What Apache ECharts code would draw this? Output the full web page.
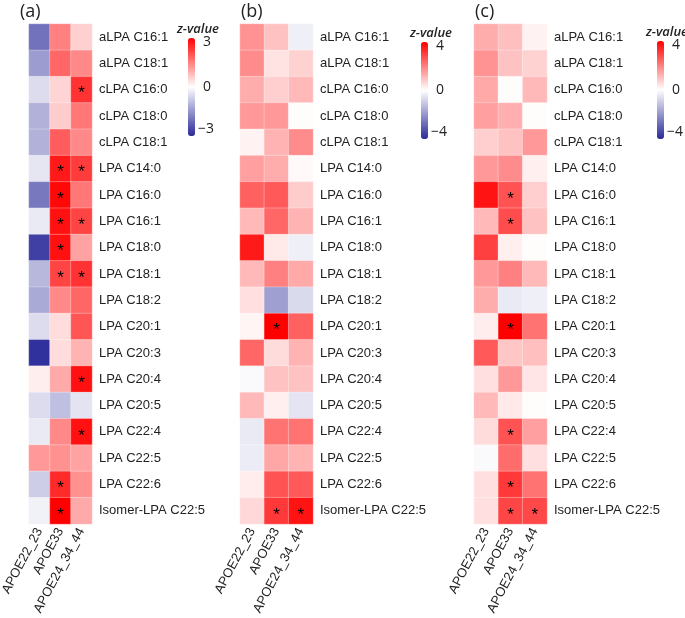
<!DOCTYPE html>
<html>
<head>
<meta charset="utf-8">
<script src="https://cdn.jsdelivr.net/npm/echarts@6/dist/echarts.min.js"></script>
<style>html,body{margin:0;padding:0;background:#fff}#c{width:685px;height:618px}</style>
</head>
<body>
<div id="c"></div>
<script>
// ---- categories ----
const groups = ['APOE22_23', 'APOE33', 'APOE24_34_44'];
const lipids = ['aLPA C16:1', 'aLPA C18:1', 'cLPA C16:0', 'cLPA C18:0', 'cLPA C18:1',
  'LPA C14:0', 'LPA C16:0', 'LPA C16:1', 'LPA C18:0', 'LPA C18:1', 'LPA C18:2',
  'LPA C20:1', 'LPA C20:3', 'LPA C20:4', 'LPA C20:5', 'LPA C22:4', 'LPA C22:5',
  'LPA C22:6', 'Isomer-LPA C22:5'];

// ---- panel (a) z-values, one array per group (rows in lipid order) ----
const a_APOE22_23 = [-2.0, -1.4, -0.5, -1.1, -1.1, -0.35, -1.9, -0.3, -2.7, -1.0, -1.2, -0.5, -2.9, 0.2, -0.5, -0.3, 1.2, -0.7, -0.2];
const a_APOE33 = [1.5, 1.8, 0.5, 0.6, 1.9, 2.7, 2.9, 2.8, 2.8, 2.2, 1.4, 0.4, 0.4, 1.0, -0.9, 1.4, 1.3, 2.5, 3.0];
const a_APOE24_34_44 = [0.55, 1.4, 2.4, 1.6, 1.4, 2.3, 1.6, 2.2, 1.1, 2.4, 1.8, 2.0, 0.9, 2.8, -0.4, 2.8, 1.1, 1.3, 1.0];
// significance (1 = *)
const a_sig_APOE22_23 = [0,0,0,0,0,0,0,0,0,0,0,0,0,0,0,0,0,0,0];
const a_sig_APOE33 = [0,0,0,0,0,1,1,1,1,1,0,0,0,0,0,0,0,1,1];
const a_sig_APOE24_34_44 = [0,0,1,0,0,1,0,1,0,1,0,0,0,1,0,1,0,0,0];

// ---- panel (b) ----
const b_APOE22_23 = [1.7, 1.8, 1.3, 1.6, 0.2, 1.5, 2.5, 1.1, 3.6, 1.1, 0.5, 0.15, 2.4, -0.1, 1.1, -0.4, -0.35, 0.3, 0.6];
const b_APOE33 = [0.95, 0.45, 0.75, 1.6, 1.2, 1.3, 2.6, 2.4, 0.35, 2.0, -1.8, 4.0, 0.55, 0.95, 0.25, 2.2, 1.4, 2.7, 3.1];
const b_APOE24_34_44 = [-0.3, 0.7, 1.1, 0.05, 1.8, 0.1, 0.8, 1.2, -0.3, 1.35, -0.7, 2.5, 1.2, 0.95, -0.5, 2.2, 1.2, 2.6, 3.7];
const b_sig_APOE22_23 = [0,0,0,0,0,0,0,0,0,0,0,0,0,0,0,0,0,0,0];
const b_sig_APOE33 = [0,0,0,0,0,0,0,0,0,0,0,1,0,0,0,0,0,0,1];
const b_sig_APOE24_34_44 = [0,0,0,0,0,0,0,0,0,0,0,0,0,0,0,0,0,0,1];

// ---- panel (c) ----
const c_APOE22_23 = [1.3, 1.7, 1.35, 1.5, 0.75, 1.6, 3.7, 1.1, 3.0, 1.6, 1.3, 0.3, 2.6, 0.5, 1.1, 0.55, -0.1, 0.5, 0.5];
const c_APOE33 = [1.0, 0.95, 0.05, 1.25, 0.95, 1.8, 2.7, 2.8, 0.25, 2.0, -0.4, 4.0, 0.9, 1.6, 0.35, 2.7, 2.3, 3.1, 2.9];
const c_APOE24_34_44 = [0.2, 0.7, 1.1, 0.05, 1.6, 0.25, 0.75, 0.95, 0.05, 1.1, -0.3, 2.2, 1.0, 0.4, 0.05, 1.5, 0.5, 2.2, 2.85];
const c_sig_APOE22_23 = [0,0,0,0,0,0,0,0,0,0,0,0,0,0,0,0,0,0,0];
const c_sig_APOE33 = [0,0,0,0,0,0,1,1,0,0,0,1,0,0,0,1,0,1,1];
const c_sig_APOE24_34_44 = [0,0,0,0,0,0,0,0,0,0,0,0,0,0,0,0,0,0,1];

// legend ranges and ticks
const ranges = [3, 4, 4];
const tickLabels = [['3', '0', '\u22123'], ['4', '0', '\u22124'], ['4', '0', '\u22124']];
const panelTitles = ['(a)', '(b)', '(c)'];

const panels = [
  {vals: [a_APOE22_23, a_APOE33, a_APOE24_34_44], sig: [a_sig_APOE22_23, a_sig_APOE33, a_sig_APOE24_34_44]},
  {vals: [b_APOE22_23, b_APOE33, b_APOE24_34_44], sig: [b_sig_APOE22_23, b_sig_APOE33, b_sig_APOE24_34_44]},
  {vals: [c_APOE22_23, c_APOE33, c_APOE24_34_44], sig: [c_sig_APOE22_23, c_sig_APOE33, c_sig_APOE24_34_44]}
];

// layout
const gridLeft = [19, 240, 474];
const gridW = 73, gridTop = 24, gridH = 500;
const legLeft = [188, 421, 657];
const legTop = [38, 42, 41];
const legH = [98, 97, 98];

const lab = 'Liberation Sans, Arial, sans-serif';
const osf = '"Open Sans", sans-serif';

const grids = [], xAxes = [], yAxes = [], series = [], vms = [], graphics = [];
panels.forEach((p, k) => {
  grids.push({left: gridLeft[k], top: gridTop, width: gridW, height: gridH});
  xAxes.push({
    type: 'category', gridIndex: k, data: groups, position: 'bottom',
    axisLine: {show: false}, axisTick: {show: false}, splitLine: {show: false},
    axisLabel: {rotate: 62, fontSize: 13, color: '#222', fontFamily: lab, margin: 5, interval: 0}
  });
  yAxes.push({
    type: 'category', gridIndex: k, data: lipids, inverse: true, position: 'right',
    axisLine: {show: false}, axisTick: {show: false}, splitLine: {show: false},
    axisLabel: {fontSize: 13, color: '#222', fontFamily: lab, margin: 7, interval: 0}
  });
  const data = [];
  groups.forEach((g, i) => {
    lipids.forEach((l, j) => {
      data.push([i, j, p.vals[i][j], p.sig[i][j]]);
    });
  });
  series.push({
    type: 'heatmap', xAxisIndex: k, yAxisIndex: k, data: data,
    itemStyle: {borderColor: 'rgba(255,255,255,0.6)', borderWidth: 0.5},
    label: {
      show: true, fontSize: 17, color: '#000', fontFamily: lab, offset: [0, 4],
      formatter: (d) => d.data[3] ? '*' : ''
    },
    emphasis: {disabled: true}
  });
  vms.push({
    type: 'continuous', seriesIndex: k, dimension: 2,
    min: -ranges[k], max: ranges[k], calculable: false, realtime: false,
    orient: 'vertical', left: legLeft[k], top: legTop[k],
    itemWidth: 7, itemHeight: legH[k], padding: 0, text: null, showLabel: false,
    inRange: {color: ['#2a2a9a', '#ffffff', '#ff0000']}
  });
  // legend title and tick labels
  graphics.push({type: 'text', x: legLeft[k] - 11, y: legTop[k] - 9,
    style: {text: 'z-value', font: 'italic 600 13px ' + osf, fill: '#222', align: 'left', verticalAlign: 'middle'}});
  const yTop = legTop[k] + 4, yMid = legTop[k] + legH[k] / 2, yBot = legTop[k] + legH[k] - 7;
  [yTop, yMid, yBot].forEach((yy, t) => {
    graphics.push({type: 'text', x: legLeft[k] + 15 - (t === 2 ? 5 : 0), y: yy,
      style: {text: tickLabels[k][t], font: '14px ' + osf, fill: '#222', verticalAlign: 'middle'}});
  });
  graphics.push({type: 'text', x: gridLeft[k] + 1, y: 12,
    style: {text: panelTitles[k], font: '18px ' + osf, fill: '#222', verticalAlign: 'middle'}});
});

const chart = echarts.init(document.getElementById('c'), null, {renderer: 'canvas'});
chart.setOption({
  animation: false,
  grid: grids, xAxis: xAxes, yAxis: yAxes, visualMap: vms, series: series,
  graphic: graphics
});
</script>
</body>
</html>
